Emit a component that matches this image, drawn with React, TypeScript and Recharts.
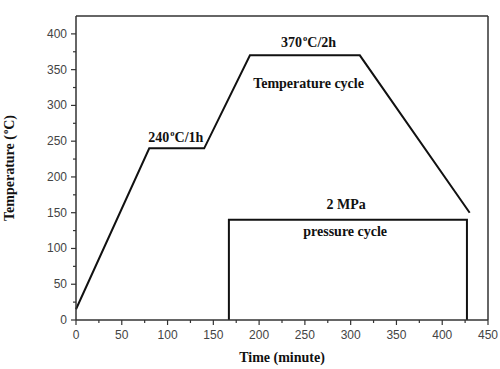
import { LineChart, Line, XAxis, YAxis, ReferenceLine, ReferenceDot } from "recharts";

// ----- Data -----
const tempTime = [0, 80, 140, 190, 310, 430];
const tempValue = [15, 240, 240, 370, 370, 150];
const pressTime = [167, 167, 427, 427];
const pressValue = [0, 140, 140, 0];
const xTicks = [0, 25, 50, 75, 100, 125, 150, 175, 200, 225, 250, 275, 300, 325, 350, 375, 400, 425, 450];
const yTicks = [0, 25, 50, 75, 100, 125, 150, 175, 200, 225, 250, 275, 300, 325, 350, 375, 400];
const noteX = [109, 254, 254, 295, 294];
const noteY = [249, 381, 325, 155, 118];
const noteMain = ["240", "370", "Temperature cycle", "2 MPa", "pressure cycle"];
const noteSup = ["o", "o", "", "", ""];
const noteTail = ["C/1h", "C/2h", "", "", ""];

const tempData = tempTime.map((t, i) => ({ t, v: tempValue[i] }));
const pressData = pressTime.map((t, i) => ({ t, v: pressValue[i] }));

const AXIS = "#333";
const SERIF = "'Liberation Serif', 'Times New Roman', serif";
const SANS = "'Liberation Sans', Arial, sans-serif";

function XTick({ x, y, payload }: any) {
  const major = payload.value % 50 === 0;
  return (
    <g>
      <line x1={x} x2={x} y1={y} y2={y + (major ? 5 : 3)} stroke={AXIS} strokeWidth={1.2} />
      {major && (
        <text x={x} y={y + 19} textAnchor="middle" fontFamily={SANS} fontSize={12} fill="#444">
          {payload.value}
        </text>
      )}
    </g>
  );
}

function YTick({ x, y, payload }: any) {
  const major = payload.value % 50 === 0;
  return (
    <g>
      <line x1={x} x2={x - (major ? 5 : 3)} y1={y} y2={y} stroke={AXIS} strokeWidth={1.2} />
      {major && (
        <text x={x - 9} y={y + 4} textAnchor="end" fontFamily={SANS} fontSize={12} fill="#444">
          {payload.value}
        </text>
      )}
    </g>
  );
}

function YLabel({ viewBox }: any) {
  const cx = 14;
  const cy = viewBox.y + viewBox.height / 2;
  return (
    <text
      x={cx}
      y={cy}
      transform={`rotate(-90 ${cx} ${cy})`}
      textAnchor="middle"
      fontFamily={SERIF}
      fontWeight="bold"
      fontSize={14}
      fill="#111"
    >
      Temperature (<tspan dy={-6} dx={1} fontSize={8.5}>o</tspan>
      <tspan dy={6}>C)</tspan>
    </text>
  );
}

function XLabel({ viewBox }: any) {
  return (
    <text
      x={viewBox.x + viewBox.width / 2}
      y={362}
      textAnchor="middle"
      fontFamily={SERIF}
      fontWeight="bold"
      fontSize={14}
      fill="#111"
    >
      Time (minute)
    </text>
  );
}

function noteLabel(i: number) {
  return ({ viewBox }: any) => {
    const cx = viewBox.x + viewBox.width / 2;
    const cy = viewBox.y + viewBox.height / 2;
    return (
      <text x={cx} y={cy} textAnchor="middle" fontFamily={SERIF} fontWeight="bold" fontSize={14} fill="#111">
        {noteMain[i]}
        {noteSup[i] && (
          <tspan dy={-6} dx={1} fontSize={8.5}>
            {noteSup[i]}
          </tspan>
        )}
        {noteTail[i] && <tspan dy={6}>{noteTail[i]}</tspan>}
      </text>
    );
  };
}

export default function App() {
  return (
    <div style={{ position: "absolute", left: 0, top: 0, background: "#fff" }}>
      <LineChart width={500} height={369} margin={{ top: 16, right: 12, left: 0, bottom: 0 }}>
        <XAxis
          type="number"
          dataKey="t"
          domain={[0, 450]}
          ticks={xTicks}
          interval={0}
          allowDuplicatedCategory={false}
          tickSize={0}
          tickMargin={0}
          tickLine={false}
          tick={<XTick />}
          height={49}
          axisLine={{ stroke: AXIS, strokeWidth: 1.5 }}
          label={<XLabel />}
        />
        <YAxis
          type="number"
          dataKey="v"
          domain={[0, 425]}
          ticks={yTicks}
          interval={0}
          tickSize={0}
          tickMargin={0}
          tickLine={false}
          tick={<YTick />}
          width={76}
          axisLine={{ stroke: AXIS, strokeWidth: 1.5 }}
          label={<YLabel />}
        />
        <ReferenceLine y={425} stroke={AXIS} strokeWidth={1.5} />
        <ReferenceLine x={450} stroke={AXIS} strokeWidth={1.5} />
        <Line
          data={tempData}
          dataKey="v"
          type="linear"
          stroke="#111"
          strokeWidth={2}
          dot={false}
          isAnimationActive={false}
        />
        <Line
          data={pressData}
          dataKey="v"
          type="linear"
          stroke="#111"
          strokeWidth={2}
          dot={false}
          isAnimationActive={false}
        />
        {noteX.map((nx, i) => (
          <ReferenceDot
            key={i}
            x={nx}
            y={noteY[i]}
            r={1}
            fill="none"
            stroke="none"
            label={noteLabel(i)}
          />
        ))}
      </LineChart>
    </div>
  );
}
